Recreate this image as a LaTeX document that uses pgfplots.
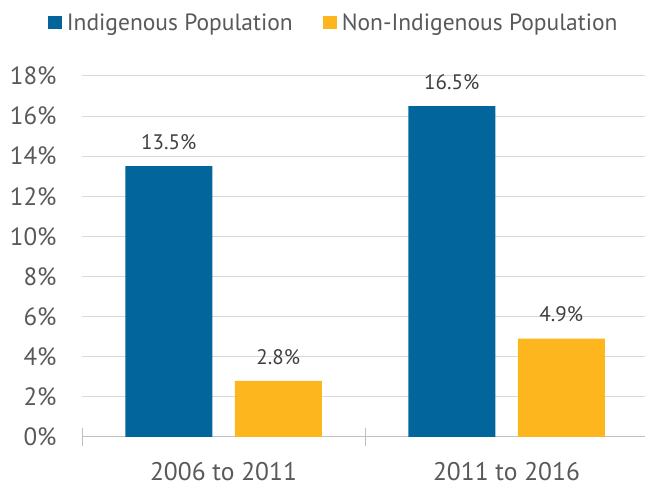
\documentclass[border=0pt]{standalone}
\usepackage{pgfplots}
\pgfplotsset{compat=1.18}
\usepackage{fontspec}
\setmainfont{PT Sans}
\definecolor{cblue}{RGB}{2,101,156}
\definecolor{cyel}{RGB}{253,182,30}
\definecolor{ctick}{RGB}{89,89,89}
\definecolor{clab}{RGB}{64,64,64}
\definecolor{cgrid}{RGB}{217,217,217}
\definecolor{caxis}{RGB}{191,191,191}
\begin{document}
\begin{tikzpicture}[x=1pt,y=1pt]
\path[use as bounding box] (0,0) rectangle (645,487);
\begin{axis}[
  at={(82pt,50pt)}, anchor=south west,
  scale only axis, width=566pt, height=361pt,
  xmin=-0.5, xmax=1.5, ymin=0, ymax=18,
  ybar=0pt, bar width=87pt,
  axis line style={draw=none},
  tick pos=left,
  ytick={0,2,...,18},
  yticklabel={\pgfmathprintnumber{\tick}\%},
  yticklabel style={font=\fontsize{25}{25}\selectfont, text=ctick, xshift=-22pt},
  ymajorgrids, grid style={cgrid, line width=1pt},
  major tick length=0pt,
  xtick={0,1}, xticklabels={2006 to 2011, 2011 to 2016},
  xticklabel style={font=\fontsize{25.5}{25.5}\selectfont, text=ctick, yshift=-22pt},
  extra x ticks={-0.5,0.5,1.5}, extra x tick labels={},
  extra x tick style={grid=none, major tick length=18pt, tick align=center, tick style={caxis, line width=1pt}},
  /pgf/number format/assume math mode=true,
  nodes near coords={\pgfmathprintnumber[fixed,precision=1,fixed zerofill]{\pgfplotspointmeta}\%},
  nodes near coords style={font=\fontsize{21}{21}\selectfont, text=clab, yshift=13pt},
  legend style={at={(-0.066,1.0)}, anchor=south west, yshift=40pt, draw=none, legend columns=-1,
    font=\fontsize{23.5}{23.5}\selectfont, text=ctick, /tikz/every even column/.append style={column sep=28pt}},
  legend image code/.code={\fill[#1] (0pt,-6.5pt) rectangle (14pt,6.5pt); \path (17pt,0pt);},
]
\draw[caxis, line width=1pt] (axis cs:-0.5,0) -- (axis cs:1.5,0);
\addplot[fill=cblue, draw=none, bar shift=-54.75pt] coordinates {(0,13.5) (1,16.5)};
\addplot[fill=cyel, draw=none, bar shift=54.75pt] coordinates {(0,2.8) (1,4.9)};
\legend{Indigenous Population, Non-Indigenous Population}
\end{axis}
\end{tikzpicture}
\end{document}
